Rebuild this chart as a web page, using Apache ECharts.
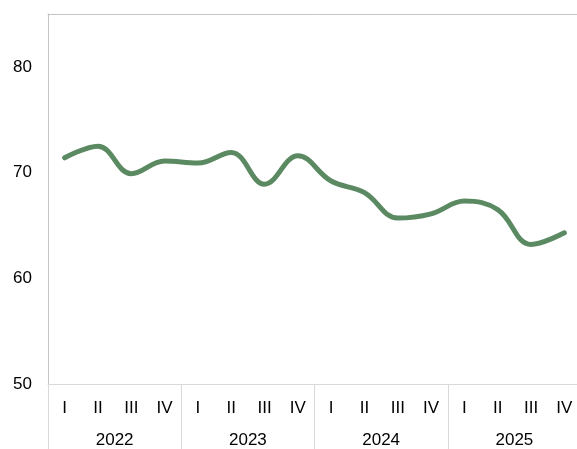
<!DOCTYPE html>
<html>
<head>
<meta charset="utf-8">
<script src="https://cdn.jsdelivr.net/npm/echarts@6/dist/echarts.min.js"></script>
<style>
  html, body { margin: 0; padding: 0; background: #fff; overflow: hidden; }
  #wrap { width: 577px; height: 449px; overflow: hidden; position: relative; }
  #chart { width: 582px; height: 449px; position: absolute; left: 0; top: 0; }
</style>
</head>
<body>
<div id="wrap"><div id="chart"></div></div>
<script>
const quarters = ["I", "II", "III", "IV", "I", "II", "III", "IV", "I", "II", "III", "IV", "I", "II", "III", "IV"];
const years = ["2022", "2023", "2024", "2025"];
const values = [71.4, 72.5, 69.9, 71.1, 70.9, 71.9, 68.9, 71.6, 69.2, 68.1, 65.7, 66.1, 67.3, 66.5, 63.2, 64.3];

const myChart = echarts.init(document.getElementById("chart"));

const font = "Liberation Sans, Arial, sans-serif";

const option = {
  animation: false,
  grid: {
    left: 48,
    right: 1,
    top: 14,
    bottom: 64,
  },
  xAxis: [
    {
      type: "category",
      data: quarters,
      boundaryGap: true,
      axisLine: { show: true, lineStyle: { color: "#d9d9d9", width: 1 } },
      axisTick: { show: false },
      axisLabel: {
        color: "#000",
        fontSize: 17,
        fontFamily: font,
        margin: 16,
        interval: 0,
      },
    },
    {
      type: "category",
      data: years,
      position: "bottom",
      boundaryGap: true,
      axisLine: { show: false },
      axisTick: {
        show: true,
        length: 70,
        lineStyle: { color: "#d9d9d9", width: 1 },
      },
      axisLabel: {
        color: "#000",
        fontSize: 17,
        fontFamily: font,
        margin: 48,
      },
    },
    {
      // top frame line
      type: "category",
      data: years,
      position: "top",
      axisLine: { show: true, lineStyle: { color: "#c4c4c4", width: 1 } },
      axisTick: { show: false },
      axisLabel: { show: false },
    },
  ],
  yAxis: {
    type: "value",
    min: 50,
    max: 85,
    interval: 10,
    axisLine: { show: true, lineStyle: { color: "#c4c4c4" } },
    axisTick: { show: false },
    splitLine: { show: false },
    axisLabel: {
      color: "#000",
      fontSize: 17,
      fontFamily: font,
      margin: 16,
      showMaxLabel: false,
    },
  },
  series: [
    {
      type: "line",
      data: values,
      xAxisIndex: 0,
      smooth: 0.4,
      symbol: "none",
      lineStyle: { color: "#5b8a62", width: 5, cap: "round" },
    },
  ],
};

myChart.setOption(option);
</script>
</body>
</html>
